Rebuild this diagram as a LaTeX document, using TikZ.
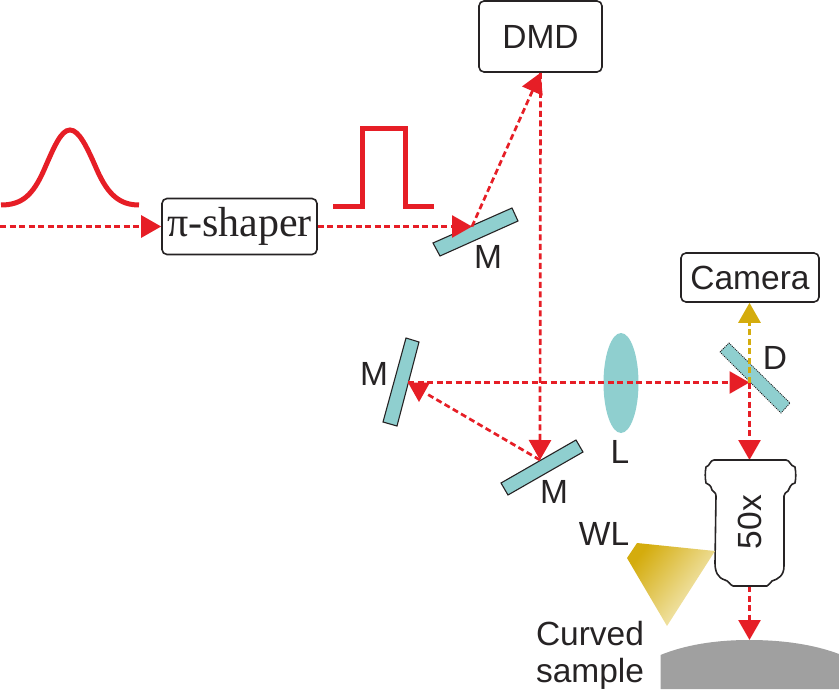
\documentclass[tikz,border=0pt]{standalone}
\usepackage{fontspec}
\setmainfont{Liberation Sans}
\newfontfamily\serifface{Liberation Serif}
\usetikzlibrary{arrows.meta}
\definecolor{beamred}{HTML}{E61E26}
\definecolor{gold}{HTML}{D4AC0D}
\definecolor{palegold}{HTML}{F8F2D0}
\definecolor{glass}{HTML}{8FCFCF}
\definecolor{ink}{HTML}{262324}
\definecolor{samplegray}{HTML}{A0A0A0}
\tikzset{
  beam/.style={draw=beamred,line width=2.7pt,dash pattern=on 6pt off 3.5pt,-{Triangle[length=20pt,width=22pt,fill=beamred]}},
  beamplain/.style={draw=beamred,line width=2.7pt,dash pattern=on 6pt off 3.5pt},
  yellowbeam/.style={draw=gold,line width=2.7pt,dash pattern=on 6pt off 3.5pt,-{Triangle[length=20pt,width=22pt,fill=gold]}},
  pulse/.style={draw=beamred,line width=5pt,line join=miter},
  mirror/.style={draw=ink,line width=1.1pt,fill=glass},
  box/.style={draw=ink,line width=1.6pt,rounded corners=5pt,fill=white,inner sep=0pt},
  lab/.style={text=ink,inner sep=0pt,font=\fontsize{33.5}{37}\selectfont},
}
\begin{document}
\begin{tikzpicture}[x=1pt,y=-1pt]
\useasboundingbox (0,0) rectangle (839,690);
% sample
\fill[samplegray] (660.5,655) .. controls (685,645) and (715,640) .. (749,640) .. controls (785,640) and (815,645) .. (839,654) -- (839,689) -- (660.5,689) -- cycle;
% pulses
\draw[pulse] (1,205) .. controls (22,205) and (33,195) .. (44,170) .. controls (54,147) and (61,130) .. (70,130) .. controls (79,130) and (87,147) .. (97,170) .. controls (108,195) and (120,205) .. (139,205);
\draw[pulse] (333,207) -- (362,207) -- (362,129) -- (405,129) -- (405,207) -- (434,207);
% mirrors
\draw[mirror] (433,243) -- (440,256) -- (518,221) -- (512,208) -- cycle;
\draw[mirror] (406,338) -- (419,342) -- (397,426) -- (383,422) -- cycle;
\draw[mirror] (501,483) -- (508,495) -- (583,452) -- (576,440) -- cycle;
\draw[mirror,densely dotted,line width=0.8pt] (720,352) -- (729,343) -- (790,403) -- (781,413) -- cycle;
% lens
\fill[glass] (621,383) ellipse [x radius=17.5,y radius=50];
% boxes
\node[box,minimum width=155pt,minimum height=56pt,font=\serifface\fontsize{42}{44}\selectfont,text=ink] (shaper) at (239.5,226.5) {π-shaper};
\node[box,minimum width=123pt,minimum height=71pt,text=ink,font=\fontsize{33.5}{37}\selectfont] (dmd) at (540.5,36.5) {DMD};
\node[box,minimum width=138pt,minimum height=49pt,text=ink,font=\fontsize{33.5}{37}\selectfont] (cam) at (750,277.5) {Camera};
% coordinates
\coordinate (in) at (0,226.5);
\coordinate (mA) at (472,226.5);
\coordinate (mB) at (408,382.5);
\coordinate (mBend) at (427,394);
\coordinate (mC) at (540,460);
\coordinate (dm) at (749.5,382.5);
\coordinate (objtop) at (749.5,460);
\coordinate (objbot) at (749.5,586);
\coordinate (surf) at (749.5,640);
% beams
\draw[beam] (in) -- (shaper.west);
\draw[beam] (shaper.east) -- (mA);
\draw[beam] (mA) -- (dmd.south);
\draw[beam] (dmd.south) -- (mC);
\draw[beamplain] (mC) -- (mBend);
\draw[beam] (mB) -- (dm);
\fill[beamred] (mB) -- (430,382.5) -- (419,402) -- cycle;
\draw[yellowbeam] (dm) -- (cam.south -| dm);
\draw[beam] (dm) -- (objtop);
\draw[beam] (objbot) -- (surf);
% objective
\draw[ink,line width=1.6pt,fill=white,line join=round]
  (714,460) -- (786,460) .. controls (790,460) and (790,466) .. (795,467)
  .. controls (796,473) and (796,478) .. (795,483) .. controls (790,484) and (790,488) .. (788,491)
  .. controls (786,493) and (784,493) .. (784,496) -- (784,566)
  .. controls (784,576) and (778,579) .. (772,581) .. controls (770,582) and (770,585) .. (767,586)
  -- (733,586) .. controls (730,585) and (729,581) .. (725,580)
  .. controls (718,578) and (715,572) .. (715,563) -- (716,496)
  .. controls (716,492) and (713,492) .. (712,490) .. controls (711,485) and (708,484) .. (706,483)
  .. controls (705,478) and (705,472) .. (706,467) .. controls (710,466) and (710,460) .. (714,460) -- cycle;
% white light cone
\shade[left color=gold,right color=palegold,shading angle=52]
  (637,543) -- (715,551) -- (667,626) -- (627,558) -- cycle;
% labels
\node[lab] (l1) at (488,257) {M};
\node[lab] (l2) at (374,374) {M};
\node[lab] (l3) at (554,492) {M};
\node[lab] (l4) at (620,452) {L};
\node[lab] (l5) at (775,358) {D};
\node[lab] (l6) at (604,534) {WL};
\node[lab,rotate=90] (l7) at (750,522) {50x};
\node[lab,anchor=base] (l8) at (590,645) {Curved};
\node[lab,anchor=base] (l9) at (590,682) {sample};
\end{tikzpicture}
\end{document}
